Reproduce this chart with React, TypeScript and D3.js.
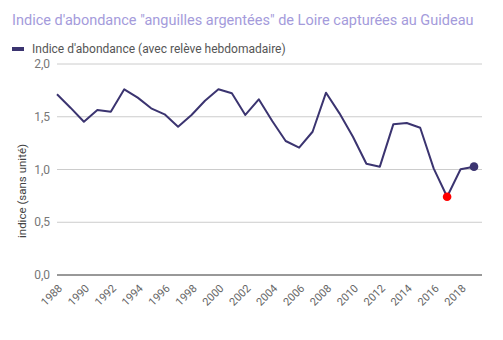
import React from "react";
import * as d3 from "d3";

const years = [1988,1989,1990,1991,1992,1993,1994,1995,1996,1997,1998,1999,2000,2001,2002,2003,2004,2005,2006,2007,2008,2009,2010,2011,2012,2013,2014,2015,2016,2017,2018,2019];
const values = [1.713,1.586,1.453,1.564,1.548,1.760,1.681,1.580,1.523,1.406,1.517,1.652,1.760,1.722,1.517,1.665,1.46,1.270,1.207,1.358,1.728,1.532,1.311,1.055,1.027,1.428,1.441,1.396,1.011,0.742,1.002,1.027];
const yTicks = [0, 0.5, 1, 1.5, 2];
const xTickYears = [1988,1990,1992,1994,1996,1998,2000,2002,2004,2006,2008,2010,2012,2014,2016,2018];
const title = "Indice d'abondance \"anguilles argentées\" de Loire capturées au Guideau";
const legendLabel = "Indice d'abondance (avec relève hebdomadaire)";
const yLabel = "indice (sans unité)";
const minYear = 2017;

export default function App() {
  const W = 503, H = 340;
  const x = d3.scaleLinear().domain([1988, 2019]).range([57, 474]);
  const y = d3.scaleLinear().domain([0, 2]).range([275, 64]);
  const line = d3.line<number>().x((_, i) => x(years[i])).y((d) => y(d));
  const fmt = (v: number) => v.toFixed(1).replace(".", ",");
  const lineColor = "#3b3470";
  const font = "Roboto, sans-serif";
  const lastIdx = years.length - 1;
  const minIdx = years.indexOf(minYear);
  return (
    <svg width={W} height={H} style={{ position: "absolute", left: 0, top: 0, fontFamily: font }}>
      <rect width={W} height={H} fill="#fff" />
      <text x={12} y={25} fontSize={14.5} fill="#a49bdb">{title}</text>
      <rect x={12} y={47} width={12} height={4} fill={lineColor} />
      <text x={32} y={53} fontSize={12} fill="#555">{legendLabel}</text>
      {yTicks.map((t) => (
        <g key={t}>
          {t !== 0 && <line x1={57} x2={482} y1={y(t)} y2={y(t)} stroke="#ccc" strokeWidth={1} />}
          <text x={50} y={y(t) + 4} textAnchor="end" fontSize={12} fill="#777">{fmt(t)}</text>
        </g>
      ))}
      <line x1={57} x2={482} y1={y(0)} y2={y(0)} stroke="#333" strokeWidth={1} />
      <text transform={`translate(26,191) rotate(-90)`} textAnchor="middle" fontSize={11.5} fill="#444">{yLabel}</text>
      {xTickYears.map((yr) => (
        <text key={yr} transform={`translate(${x(yr) + 6},${y(0) + 14}) rotate(-45)`} textAnchor="end" fontSize={11} fill="#666">{yr}</text>
      ))}
      <path d={line(values) || ""} fill="none" stroke={lineColor} strokeWidth={2} strokeLinejoin="round" />
      <circle cx={x(years[minIdx])} cy={y(values[minIdx])} r={4.3} fill="#ff0000" />
      <circle cx={x(years[lastIdx])} cy={y(values[lastIdx])} r={4.3} fill={lineColor} />
    </svg>
  );
}
